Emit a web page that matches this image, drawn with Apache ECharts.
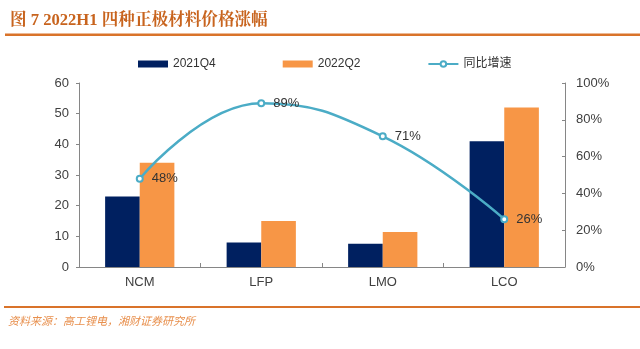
<!DOCTYPE html>
<html>
<head>
<meta charset="utf-8">
<script src="https://cdn.jsdelivr.net/npm/echarts@6/dist/echarts.min.js"></script>
<style>
  html, body { margin: 0; padding: 0; background: #fff; }
  #chart { width: 640px; height: 349px; }
</style>
</head>
<body>
<div id="chart"></div>
<script>
// Cathode material prices (万元/吨) and year-over-year change
const categories = ['NCM', 'LFP', 'LMO', 'LCO'];
const price2021Q4 = [23, 8, 7.6, 41];
const price2022Q2 = [34, 15, 11.4, 52];
const growthPct = [48, 89, 71, 26];
const leftTicks = [0, 10, 20, 30, 40, 50, 60];
const rightTicks = [0, 20, 40, 60, 80, 100];

const titleText = '图 7 2022H1 四种正极材料价格涨幅';
const sourceText = '资料来源：高工锂电，湘财证券研究所';

const sans = '"Liberation Sans", Arial, "Noto Sans CJK SC", sans-serif';
const axisColor = '#868686';
const labelColor = '#404040';

const chart = echarts.init(document.getElementById('chart'), null, { renderer: 'canvas' });

chart.setOption({
  animation: false,
  backgroundColor: '#fff',
  graphic: [
    {
      type: 'text', left: 10, top: 12,
      style: {
        text: titleText,
        font: 'bold 16.6px "Liberation Serif", "Noto Serif CJK SC", "Noto Sans CJK SC", serif',
        fill: '#C8641E'
      }
    },
    {
      type: 'rect', shape: { x: 5, y: 33.5, width: 635, height: 2.5 },
      style: { fill: '#D9732A' }
    },
    {
      type: 'rect', shape: { x: 4, y: 306, width: 636, height: 2 },
      style: { fill: '#D9732A' }
    },
    {
      type: 'text', left: 8, top: 315,
      style: {
        text: sourceText,
        font: 'italic 11px "Noto Sans CJK SC", sans-serif',
        fill: '#E8904E'
      }
    }
  ],
  legend: {
    left: 138, top: 58, padding: 0,
    itemGap: 67, itemWidth: 30, itemHeight: 7,
    textStyle: { fontFamily: sans, fontSize: 12, color: '#333' },
    data: [
      { name: '2021Q4', icon: 'rect' },
      { name: '2022Q2', icon: 'rect' },
      { name: '同比增速' }
    ]
  },
  grid: { left: 79, right: 75, top: 83, bottom: 82 },
  xAxis: {
    type: 'category',
    data: categories,
    axisLine: { lineStyle: { color: axisColor, width: 1 } },
    axisTick: { show: true, inside: true, length: 4, lineStyle: { color: axisColor } },
    axisLabel: { fontFamily: sans, fontSize: 13, color: labelColor, margin: 9 }
  },
  yAxis: [
    {
      type: 'value', min: leftTicks[0], max: leftTicks[leftTicks.length - 1], interval: 10,
      splitLine: { show: false },
      axisLine: { show: true, lineStyle: { color: axisColor } },
      axisTick: { show: true, length: 3, lineStyle: { color: axisColor } },
      axisLabel: { fontFamily: sans, fontSize: 13, color: labelColor, margin: 10 }
    },
    {
      type: 'value', min: rightTicks[0], max: rightTicks[rightTicks.length - 1], interval: 20,
      position: 'right',
      splitLine: { show: false },
      axisLine: { show: true, lineStyle: { color: axisColor } },
      axisTick: { show: true, inside: true, length: 3, lineStyle: { color: axisColor } },
      axisLabel: { fontFamily: sans, fontSize: 13, color: labelColor, margin: 11, formatter: '{value}%' }
    }
  ],
  series: [
    {
      name: '2021Q4', type: 'bar', data: price2021Q4,
      barGap: '0%', barCategoryGap: '43%',
      itemStyle: { color: '#002060' }
    },
    {
      name: '2022Q2', type: 'bar', data: price2022Q2,
      barGap: '0%', barCategoryGap: '43%',
      itemStyle: { color: '#F79646' }
    },
    {
      name: '同比增速', type: 'line', yAxisIndex: 1, data: growthPct,
      smooth: 0.45,
      symbol: 'emptyCircle', symbolSize: 6,
      lineStyle: { color: '#4BACC6', width: 2.5 },
      itemStyle: { color: '#4BACC6', borderWidth: 1.5 },
      label: {
        show: true, position: 'right', distance: 8,
        fontFamily: sans, fontSize: 13, color: '#333',
        formatter: '{c}%'
      },
      z: 5
    }
  ]
});
</script>
</body>
</html>
